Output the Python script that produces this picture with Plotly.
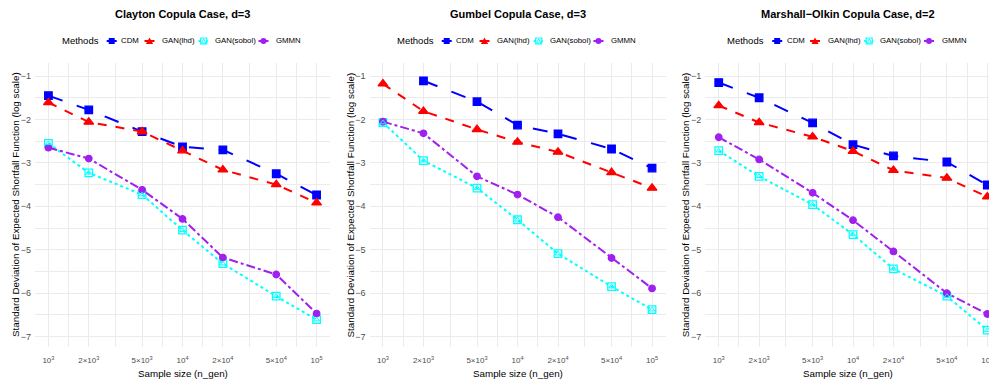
import plotly.graph_objects as go

# ---------------- data ----------------
sizes = [1000, 2000, 5000, 10000, 20000, 50000, 100000]
x_tick_text = ["10<sup>3</sup>", "2×10<sup>3</sup>", "5×10<sup>3</sup>", "10<sup>4</sup>",
               "2×10<sup>4</sup>", "5×10<sup>4</sup>", "10<sup>5</sup>"]
x_minor = [1414, 3162, 7071, 14142, 31623, 70711]
y_ticks = [-1, -2, -3, -4, -5, -6, -7]

methods = ["CDM", "GAN(lhd)", "GAN(sobol)", "GMMN"]
panel_titles = ["Clayton Copula Case, d=3", "Gumbel Copula Case, d=3",
                "Marshall−Olkin Copula Case, d=2"]

clayton_cdm = [-1.45, -1.78, -2.28, -2.63, -2.70, -3.25, -3.74]
clayton_lhd = [-1.61, -2.06, -2.28, -2.72, -3.16, -3.50, -3.92]
clayton_sobol = [-2.55, -3.23, -3.73, -4.55, -5.32, -6.07, -6.61]
clayton_gmmn = [-2.65, -2.90, -3.62, -4.29, -5.18, -5.57, -6.47]

gumbel_cdm = [None, -1.11, -1.59, -2.13, -2.33, -2.68, -3.12]
gumbel_lhd = [-1.18, -1.81, -2.23, -2.52, -2.75, -3.22, -3.58]
gumbel_sobol = [-2.07, -2.95, -3.58, -4.31, -5.09, -5.85, -6.38]
gumbel_gmmn = [-2.05, -2.32, -3.31, -3.73, -4.25, -5.19, -5.89]

mo_cdm = [-1.15, -1.50, -2.08, -2.58, -2.84, -2.98, -3.51]
mo_lhd = [-1.68, -2.07, -2.40, -2.73, -3.17, -3.35, -3.78]
mo_sobol = [-2.72, -3.31, -3.96, -4.65, -5.44, -6.07, -6.85]
mo_gmmn = [-2.41, -2.92, -3.69, -4.32, -5.04, -6.00, -6.48]

panels = [
    [clayton_cdm, clayton_lhd, clayton_sobol, clayton_gmmn],
    [gumbel_cdm, gumbel_lhd, gumbel_sobol, gumbel_gmmn],
    [mo_cdm, mo_lhd, mo_sobol, mo_gmmn],
]

# ---------------- styles ----------------
colors = ["#0000FF", "#FF0000", "#00FFFF", "#A020F0"]
dashes = ["longdash", "dash", "dot", "dashdot"]
symbols = ["square", "triangle-up", "square-open", "circle"]
msizes = [7.5, 8.5, 7.5, 6.5]

W, H = 989, 381
FONT = "Liberation Sans, Arial, sans-serif"

# panel geometry in pixels
px_left = [35, 369.5, 705.3]
px_right = [330, 665.5, 989]
x_ranges = [[2.9, 5.1], [2.9, 5.1], [2.9, 5.0 + 1.7 / 134.0]]
centers = [182.5, 517.5, 848]
plot_top, plot_bottom = 63, 347
y_range = [-7.24, -0.70]


def px(x):
    return x / W


def py(y):
    return 1 - y / H


fig = go.Figure()

for p in range(3):
    xa = "x" if p == 0 else f"x{p+1}"
    ya = "y" if p == 0 else f"y{p+1}"
    for m in range(4):
        fig.add_trace(go.Scatter(
            x=sizes, y=panels[p][m], mode="lines+markers", name=methods[m],
            xaxis=xa, yaxis=ya, showlegend=False, connectgaps=False,
            line=dict(color=colors[m], dash=dashes[m], width=2),
            marker=dict(symbol=symbols[m], size=msizes[m], color=colors[m],
                        line=dict(color=colors[m], width=1.3)),
        ))
    # inner triangle of the "square-triangle" GAN(sobol) marker
    fig.add_trace(go.Scatter(
        x=sizes, y=panels[p][2], mode="markers", showlegend=False,
        xaxis=xa, yaxis=ya, hoverinfo="skip",
        marker=dict(symbol="triangle-up-open", size=5, color=colors[2],
                    line=dict(color=colors[2], width=1)),
    ))

layout = dict(
    width=W, height=H, margin=dict(l=0, r=0, t=0, b=0, autoexpand=False),
    paper_bgcolor="white", plot_bgcolor="white",
    font=dict(family=FONT, color="#000000", size=10),
    showlegend=False,
)

grid_major = "#EBEBEB"
annotations = []
shapes = []

# legend layout (pixel offsets from the legend centre)
key_off = [-70.8, -33.0, 21.2, 81.0]
text_off = [-63.5, -22.5, 30.2, 91.5]
legend_y = 41

for p in range(3):
    xk = "xaxis" if p == 0 else f"xaxis{p+1}"
    yk = "yaxis" if p == 0 else f"yaxis{p+1}"
    xa = "x" if p == 0 else f"x{p+1}"
    ya = "y" if p == 0 else f"y{p+1}"
    layout[xk] = dict(
        type="log", domain=[px(px_left[p]), px(px_right[p])], range=x_ranges[p], anchor=ya,
        tickmode="array", tickvals=sizes, ticktext=x_tick_text,
        tickfont=dict(size=8, color="#4D4D4D", family=FONT),
        ticklabelstandoff=7, ticklabeloverflow="allow",
        showgrid=True, gridcolor=grid_major, gridwidth=1.4,
        minor=dict(tickmode="array", tickvals=x_minor, showgrid=True,
                   gridcolor=grid_major, gridwidth=0.9, ticks=""),
        showline=False, zeroline=False, ticks="", automargin=False,
    )
    layout[yk] = dict(
        domain=[1 - plot_bottom / H, 1 - plot_top / H], range=y_range,
        anchor=xa, tickmode="array", tickvals=y_ticks,
        tickfont=dict(size=9, color="#4D4D4D", family=FONT),
        ticklabelstandoff=3,
        showgrid=True, gridcolor=grid_major, gridwidth=1.4,
        minor=dict(dtick=0.5, tick0=0, showgrid=True, gridcolor=grid_major,
                   gridwidth=0.9, ticks=""),
        showline=False, zeroline=False, ticks="", automargin=False,
    )
    c = centers[p]
    # panel title
    annotations.append(dict(
        text=f"<b>{panel_titles[p]}</b>", x=px(c), y=py(14), xref="paper", yref="paper",
        xanchor="center", yanchor="middle", showarrow=False,
        font=dict(size=11, family=FONT, color="#000000"),
    ))
    # x-axis title
    annotations.append(dict(
        text="Sample size (n_gen)", x=px(c), y=py(373), xref="paper", yref="paper",
        xanchor="center", yanchor="middle", showarrow=False,
        font=dict(size=9.8, family=FONT, color="#000000"),
    ))
    # y-axis title
    annotations.append(dict(
        text="Standard Deviation of Expected Shortfall Function (log scale)",
        x=px(px_left[p] - 20), y=py((plot_top + plot_bottom) / 2),
        xref="paper", yref="paper", xanchor="center", yanchor="middle",
        textangle=-90, showarrow=False,
        font=dict(size=9.8, family=FONT, color="#000000"),
    ))
    # legend title
    annotations.append(dict(
        text="Methods", x=px(c - 82), y=py(legend_y), xref="paper", yref="paper",
        xanchor="right", yanchor="middle", showarrow=False,
        font=dict(size=9.5, family=FONT, color="#000000"),
    ))
    for m in range(4):
        kx = c + key_off[m]
        annotations.append(dict(
            text=methods[m], x=px(c + text_off[m]), y=py(legend_y), xref="paper",
            yref="paper", xanchor="left", yanchor="middle", showarrow=False,
            font=dict(size=7.8, family=FONT, color="#000000"),
        ))
        # key line
        shapes.append(dict(
            type="line", xref="paper", yref="paper",
            x0=px(kx - 5), x1=px(kx + 5), y0=py(legend_y), y1=py(legend_y),
            line=dict(color=colors[m], width=2,
                      dash="dot" if m == 2 else "solid"),
        ))
        # key marker
        s = 3
        if m == 0:
            shapes.append(dict(type="rect", xref="paper", yref="paper",
                               x0=px(kx - s), x1=px(kx + s), y0=py(legend_y - s),
                               y1=py(legend_y + s), fillcolor=colors[m],
                               line=dict(width=0)))
        elif m == 1:
            path = (f"M {px(kx - 3.6)},{py(legend_y + 3)} L {px(kx + 3.6)},{py(legend_y + 3)} "
                    f"L {px(kx)},{py(legend_y - 3.6)} Z")
            shapes.append(dict(type="path", xref="paper", yref="paper", path=path,
                               fillcolor=colors[m], line=dict(width=0)))
        elif m == 2:
            shapes.append(dict(type="rect", xref="paper", yref="paper",
                               x0=px(kx - s), x1=px(kx + s), y0=py(legend_y - s),
                               y1=py(legend_y + s), fillcolor="white",
                               line=dict(color=colors[m], width=1.2)))
            path = (f"M {px(kx - 2.2)},{py(legend_y + 2)} L {px(kx + 2.2)},{py(legend_y + 2)} "
                    f"L {px(kx)},{py(legend_y - 2)} Z")
            shapes.append(dict(type="path", xref="paper", yref="paper", path=path,
                               line=dict(color=colors[m], width=1)))
        else:
            shapes.append(dict(type="circle", xref="paper", yref="paper",
                               x0=px(kx - 3), x1=px(kx + 3), y0=py(legend_y - 3),
                               y1=py(legend_y + 3), fillcolor=colors[m],
                               line=dict(width=0)))

layout["annotations"] = annotations
layout["shapes"] = shapes
fig.update_layout(**layout)
fig.write_html("out.html")
